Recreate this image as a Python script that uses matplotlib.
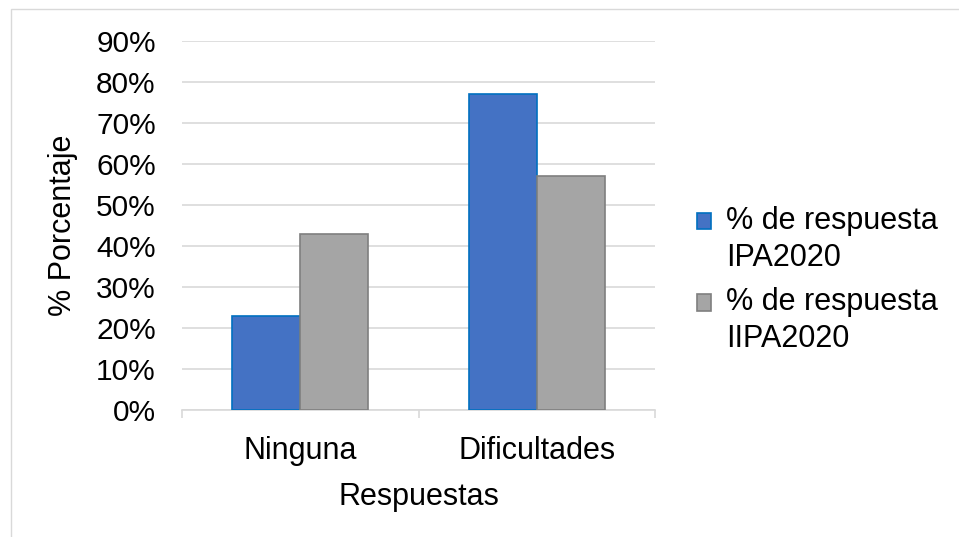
import numpy as np
import matplotlib.pyplot as plt
from matplotlib.patches import Rectangle
from matplotlib.container import BarContainer
from matplotlib.legend_handler import HandlerPatch, update_from_first_child

categories = ["Ninguna", "Dificultades"]
ipa = [0.23, 0.77]
iipa = [0.43, 0.57]
series_names = ["% de respuesta\nIPA2020", "% de respuesta\nIIPA2020"]
yticks = np.arange(0, 1.0, 0.1)

plt.rcParams['font.family'] = ['Liberation Sans', 'DejaVu Sans']
fs = 22

fig = plt.figure(figsize=(9.59, 5.37), dpi=100)
ax = fig.add_axes([0.19, 0.2365, 0.493, 0.687])

x = np.arange(len(categories))
w = 0.2875
ax.bar(x - w / 2, ipa, w, color='#4472C4', edgecolor='#0070C0', linewidth=1.2,
       label=series_names[0], zorder=3)
ax.bar(x + w / 2, iipa, w, color='#A5A5A5', edgecolor='#7F7F7F', linewidth=1.2,
       label=series_names[1], zorder=3)

ax.set_xlim(-0.5, 1.5)
ax.set_ylim(0, 0.9)
ax.set_yticks(yticks)
ax.set_yticklabels([f"{int(round(v * 100))}%" for v in yticks], fontsize=21.5)
ax.set_xticks(x)
ax.set_xticklabels(categories, fontsize=fs)
ax.set_xticks([-0.5, 0.5, 1.5], minor=True)
ax.tick_params(axis='x', which='major', length=0, pad=19)
ax.tick_params(axis='x', which='minor', length=6, color='#d9d9d9', width=1.2)
ax.tick_params(axis='y', length=0, pad=19)

ax.grid(axis='y', color='#d9d9d9', linewidth=1.2, zorder=0)
for s in ['top', 'right', 'left']:
    ax.spines[s].set_visible(False)
ax.spines['bottom'].set_color('#d9d9d9')
ax.spines['bottom'].set_linewidth(1.2)

ax.set_xlabel("Respuestas", fontsize=fs, labelpad=11)
ax.set_ylabel("% Porcentaje", fontsize=fs, labelpad=13)


# legend square sits next to the first line of the two-line label
def top_square(legend, orig_handle, xdescent, ydescent, width, height, fontsize):
    return Rectangle((-xdescent, -ydescent + 0.62 * fontsize), width, height)


leg = ax.legend(loc='center left', bbox_to_anchor=(1.089, 0.352), frameon=False,
                fontsize=fs, handlelength=0.45, handleheight=0.45, handletextpad=0.5,
                labelspacing=0.48, borderpad=0, borderaxespad=0,
                handler_map={BarContainer: HandlerPatch(patch_func=top_square,
                                                        update_func=update_from_first_child)})
for t in leg.get_texts():
    t.set_linespacing(1.3)

fig.patches.append(Rectangle((0.011, -0.01), 1.0, 0.993, transform=fig.transFigure,
                             fill=False, edgecolor='#d9d9d9', linewidth=1))

fig.savefig("out.png", dpi=100)
